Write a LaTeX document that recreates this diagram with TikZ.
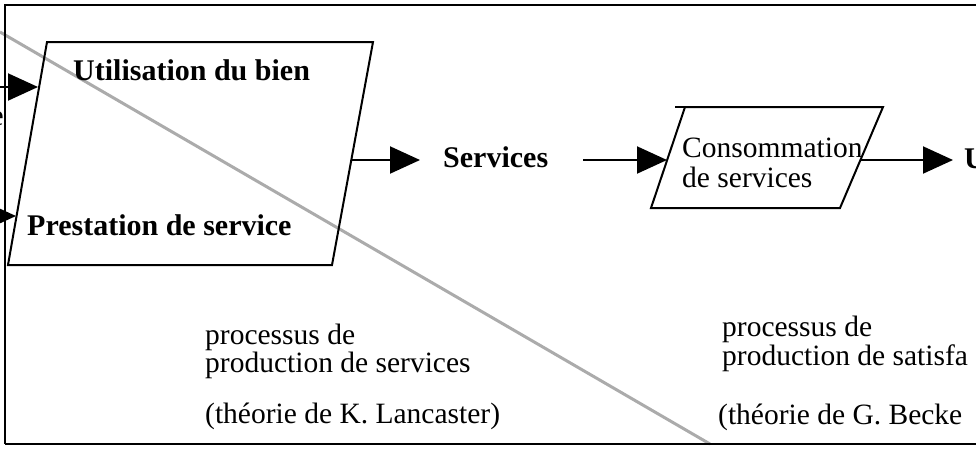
\documentclass[tikz,border=0pt]{standalone}
\usepackage{fontspec}
\setmainfont{Liberation Serif}
\usetikzlibrary{arrows.meta}
\tikzset{
  edge/.style={line width=2pt},
  arr/.style={line width=2pt, -{Triangle[length=30pt,width=27pt]}},
  lbl/.style={inner sep=0pt, anchor=base west, font=\fontsize{29.5}{30}\selectfont},
  mlbl/.style={inner sep=0pt, anchor=base west, align=left, font=\fontsize{29.5}{25}\selectfont},
  blbl/.style={inner sep=0pt, anchor=base west, font=\fontsize{30}{30}\selectfont\bfseries},
  diag/.style={line width=3pt, draw=black!33},
  frame/.style={line width=2pt},
}
\begin{document}
\begin{tikzpicture}[x=1pt,y=-1pt]
\useasboundingbox (0,0) rectangle (976,448);
\clip (0,0) rectangle (976,448);
% grey diagonal
\coordinate (g1) at (0,32);
\coordinate (g2) at (710,444);
\draw[diag] (g1) -- (g2);
% process shapes
\coordinate (A1) at (47,42);
\coordinate (A2) at (373,42);
\coordinate (A3) at (332,265);
\coordinate (A4) at (8,265);
\draw[edge] (A1) -- (A2) -- (A3) -- (A4) -- cycle;
\coordinate (B0) at (675,107);
\coordinate (B1) at (685,107);
\coordinate (B2) at (883,107);
\coordinate (B3) at (840,208);
\coordinate (B4) at (651,208);
\draw[edge] (B1) -- (B2) -- (B3) -- (B4) -- cycle;
\draw[edge] (B0) -- (B1);
% texts (multi-line nodes are placed by the baseline of their last line)
\node[blbl] (util) at (73,80) {Utilisation du bien};
\node[blbl] (prest) at (27,235) {Prestation de service};
\node[blbl] (serv) at (443,167) {Services};
\node[mlbl, font=\fontsize{29.5}{30}\selectfont] (cons) at (682,187) {Consommation\\de services};
\node[blbl] (U) at (964,168) {U};
\node[lbl, anchor=base east] (ep) at (4,125) {e};
\node[mlbl] (pl) at (205,372) {processus de\\production de services};
\node[lbl] (pl3) at (205,423) {(théorie de K. Lancaster)};
\node[mlbl] (pr) at (722,365) {processus de\\production de satisfa};
\node[lbl] (pr3) at (718,424) {(théorie de G. Becke};
% arrows
\coordinate (inA) at (-5,87);
\coordinate (inAend) at (38,87);
\draw[arr] (inA) -- (inAend);
\coordinate (inB) at (-20,216);
\coordinate (inBend) at (16,216);
\draw[arr] (inB) -- (inBend);
\coordinate (Aout) at (351,160);
\coordinate (servIn) at (420,160);
\draw[arr] (Aout) -- (servIn);
\coordinate (servOut) at (583,160);
\coordinate (Bin) at (667,160);
\draw[arr] (servOut) -- (Bin);
\coordinate (Bout) at (860,160);
\coordinate (Uin) at (953,160);
\draw[arr] (Bout) -- (Uin);
% frame
\draw[frame] (990,5) -- (5,5) -- (5,444);
\draw[frame, line width=2.5pt] (5,444) -- (990,444);
\end{tikzpicture}
\end{document}
